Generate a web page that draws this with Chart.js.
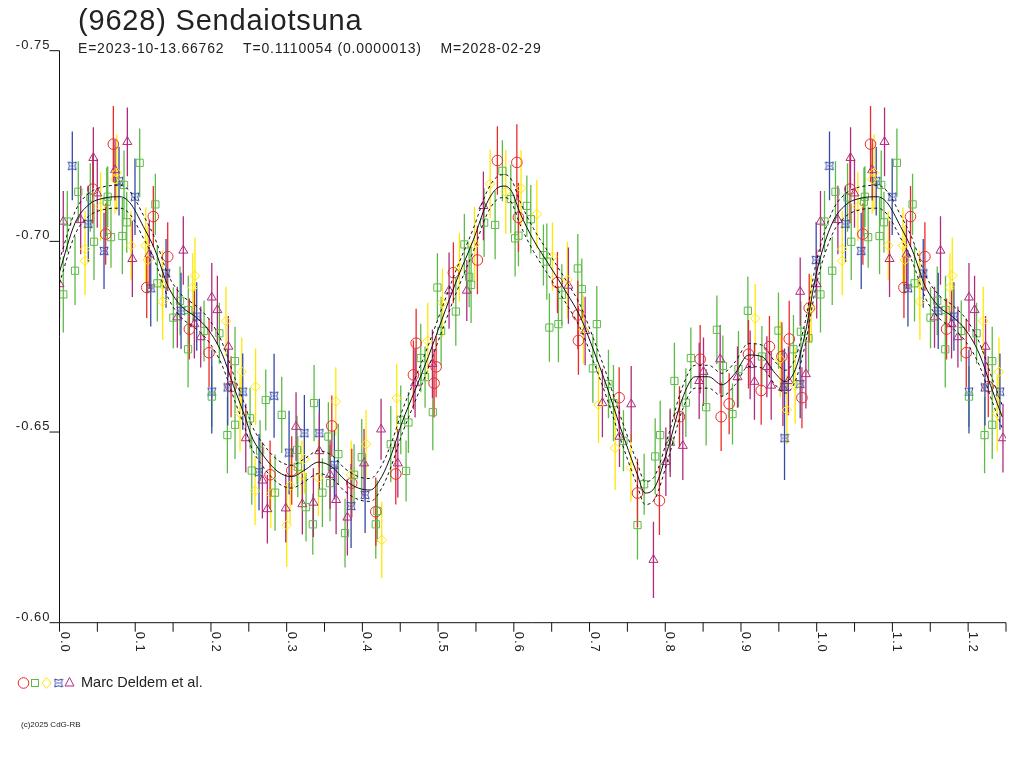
<!DOCTYPE html>
<html>
<head>
<meta charset="utf-8">
<title>(9628) Sendaiotsuna</title>
<script src="https://cdn.jsdelivr.net/npm/chart.js@4.4.1/dist/chart.umd.min.js"></script>
<style>
html, body { margin: 0; padding: 0; background: #fff; }
#wrap { position: relative; width: 1024px; height: 768px; font-family: "Liberation Sans", Arial, sans-serif; color: #222; overflow: hidden; }
#wrap canvas { position: absolute; left: 0; top: 0; }
.txt { position: absolute; white-space: nowrap; line-height: 1; }
#title { left: 78px; top: 6px; font-size: 29px; letter-spacing: 0.8px; }
#sub { left: 78px; top: 41px; font-size: 14px; letter-spacing: 0.8px; }
#leg { left: 81px; top: 675px; font-size: 14.5px; }
#copy { left: 21px; top: 721px; font-size: 8px; }
</style>
</head>
<body>
<div id="wrap">
  <canvas id="lc" width="1024" height="768"></canvas>
  <div class="txt" id="title">(9628) Sendaiotsuna</div>
  <div class="txt" id="sub">E=2023-10-13.66762&nbsp;&nbsp;&nbsp;&nbsp;T=0.1110054 (0.0000013)&nbsp;&nbsp;&nbsp;&nbsp;M=2028-02-29</div>
  <div class="txt" id="leg">Marc Deldem et al.</div>
  <div class="txt" id="copy">(c)2025 CdG-RB</div>
</div>
<script>
const redPhase = [0.0439,0.0711,0.0610,0.1239,0.1429,0.1152,0.1715,0.1975,0.2266,0.2781,
  0.3067,0.3596,0.3860,0.4177,0.4441,0.4710,0.4674,0.4974,0.4947,0.5202,
  0.5519,0.5783,0.6040,0.6061,0.6576,0.6845,0.6853,0.7391,0.7633,0.7923,
  0.8188,0.8461,0.8738,0.8844,0.9099,0.9267,0.9376,0.9540,0.9637,0.9805,0.9901];
const redMag = [-0.7137,-0.7255,-0.7019,-0.7065,-0.6960,-0.6879,-0.6770,-0.6708,-0.6619,-0.6388,
  -0.6399,-0.6516,-0.6366,-0.6291,-0.6390,-0.6733,-0.6650,-0.6671,-0.6628,-0.6918,
  -0.6951,-0.7212,-0.7207,-0.7063,-0.6892,-0.6807,-0.6740,-0.6590,-0.6340,-0.6320,
  -0.6540,-0.6691,-0.6540,-0.6574,-0.6704,-0.6609,-0.6724,-0.6698,-0.6744,-0.6590,-0.6825];
const redErr = [0.009,0.010,0.008,0.008,0.009,0.008,0.008,0.009,0.008,0.009,
  0.009,0.008,0.009,0.009,0.008,0.009,0.009,0.008,0.009,0.008,
  0.009,0.009,0.010,0.009,0.008,0.009,0.009,0.008,0.009,0.009,
  0.008,0.009,0.009,0.008,0.009,0.009,0.008,0.009,0.010,0.008,0.009];

const greenPhase = [0.0050,0.0103,0.0205,0.0248,0.0407,0.0456,0.0637,0.0624,0.0680,0.0830,
  0.0852,0.0888,0.1059,0.1266,0.1292,0.1503,0.1592,0.1701,0.1698,0.1909,
  0.2111,0.2318,0.2011,0.2217,0.2318,0.2517,0.2539,0.2649,0.2724,0.2847,
  0.2935,0.3137,0.3147,0.3256,0.3345,0.3362,0.3472,0.3551,0.3573,0.3683,
  0.3771,0.3890,0.3992,0.4177,0.4198,0.4375,0.4507,0.4577,0.4608,0.4771,
  0.4828,0.4930,0.4991,0.5040,0.5234,0.5347,0.5410,0.5436,0.5608,0.5753,
  0.5849,0.5960,0.6017,0.6061,0.6172,0.6224,0.6391,0.6436,0.6470,0.6589,
  0.6634,0.6845,0.6898,0.7096,0.7044,0.7250,0.7316,0.7448,0.7633,0.7721,
  0.7867,0.7933,0.8065,0.8121,0.8272,0.8338,0.8540,0.8682,0.8761,0.8888,
  0.8967,0.9091,0.9276,0.9495,0.9693,0.9791,0.9892];
const greenMag = [-0.6861,-0.7052,-0.6923,-0.7130,-0.7115,-0.6999,-0.7117,-0.7104,-0.7011,-0.7014,
  -0.7148,-0.7050,-0.7206,-0.7097,-0.6890,-0.6800,-0.6844,-0.6820,-0.6717,-0.6765,
  -0.6759,-0.6686,-0.6593,-0.6492,-0.6519,-0.6536,-0.6399,-0.6451,-0.6584,-0.6341,
  -0.6545,-0.6453,-0.6409,-0.6303,-0.6258,-0.6576,-0.6341,-0.6488,-0.6366,-0.6442,
  -0.6235,-0.6388,-0.6434,-0.6258,-0.6293,-0.6468,-0.6532,-0.6398,-0.6525,-0.6694,
  -0.6644,-0.6552,-0.6879,-0.6765,-0.6816,-0.6992,-0.6907,-0.6886,-0.7049,-0.7043,
  -0.7185,-0.7111,-0.7008,-0.7015,-0.7093,-0.7058,-0.6964,-0.6947,-0.6774,-0.6783,
  -0.6860,-0.6929,-0.6875,-0.6783,-0.6667,-0.6626,-0.6576,-0.6477,-0.6256,-0.6363,
  -0.6436,-0.6492,-0.6475,-0.6634,-0.6577,-0.6694,-0.6565,-0.6768,-0.6673,-0.6547,
  -0.6665,-0.6818,-0.6698,-0.6766,-0.6717,-0.6763,-0.6746];
const greenErr = [0.010,0.008,0.009,0.008,0.009,0.010,0.008,0.009,0.008,0.010,
  0.009,0.008,0.009,0.008,0.010,0.008,0.009,0.009,0.010,0.008,
  0.008,0.009,0.008,0.010,0.009,0.008,0.009,0.008,0.008,0.010,
  0.010,0.009,0.008,0.009,0.008,0.010,0.009,0.009,0.010,0.008,
  0.009,0.008,0.010,0.009,0.008,0.010,0.009,0.008,0.008,0.009,
  0.008,0.010,0.009,0.009,0.009,0.008,0.008,0.010,0.009,0.009,
  0.008,0.009,0.010,0.008,0.008,0.009,0.008,0.010,0.009,0.010,
  0.008,0.009,0.008,0.010,0.009,0.009,0.010,0.008,0.009,0.008,
  0.010,0.009,0.008,0.010,0.009,0.008,0.010,0.009,0.008,0.008,
  0.010,0.009,0.008,0.010,0.009,0.008,0.009];

const yellowPhase = [0.0337,0.0337,0.0544,0.0756,0.0733,0.0945,0.1139,0.1165,0.1358,0.1363,
  0.1760,0.1790,0.2199,0.2407,0.2590,0.2583,0.2384,0.2790,0.3001,0.3045,
  0.3234,0.3200,0.3419,0.3649,0.3851,0.4049,0.4256,0.4454,0.4864,0.5057,
  0.5281,0.5480,0.5687,0.5894,0.6096,0.6304,0.6510,0.6708,0.6919,0.7118,
  0.7338,0.7546,0.9188,0.9518,0.9606,0.9716,0.9927];
const yellowMag = [-0.6980,-0.6949,-0.7091,-0.7180,-0.7163,-0.6989,-0.6989,-0.6951,-0.6886,-0.6842,
  -0.6879,-0.6910,-0.6791,-0.6658,-0.6619,-0.6346,-0.6549,-0.6338,-0.6256,-0.6359,
  -0.6429,-0.6388,-0.6380,-0.6580,-0.6388,-0.6468,-0.6217,-0.6589,-0.6739,-0.6839,
  -0.6931,-0.6991,-0.7151,-0.7130,-0.7139,-0.7071,-0.6960,-0.6899,-0.6768,-0.6571,
  -0.6458,-0.6407,-0.6798,-0.6691,-0.6558,-0.6622,-0.6822];
const yellowErr = [0.010,0.009,0.009,0.010,0.009,0.009,0.010,0.009,0.009,0.010,
  0.009,0.010,0.009,0.009,0.010,0.009,0.010,0.009,0.011,0.010,
  0.009,0.009,0.010,0.009,0.009,0.009,0.010,0.009,0.010,0.009,
  0.009,0.010,0.009,0.011,0.010,0.009,0.009,0.010,0.009,0.010,
  0.011,0.009,0.009,0.010,0.009,0.010,0.009];

const bluePhase = [0.0169,0.0380,0.0588,0.0786,0.0997,0.1205,0.1407,0.1605,0.1812,0.2011,
  0.2222,0.2420,0.2834,0.3234,0.3432,0.3032,0.2635,0.3630,0.3851,0.4036,
  0.9575,0.9782,0.9993,0.9575];
const blueMag = [-0.7198,-0.7046,-0.6975,-0.7158,-0.7117,-0.6877,-0.6916,-0.6818,-0.6803,-0.6606,
  -0.6617,-0.6606,-0.6595,-0.6497,-0.6497,-0.6446,-0.6395,-0.6414,-0.6306,-0.6335,
  -0.6484,-0.6626,-0.6951,-0.6619];
const blueErr = [0.009,0.010,0.010,0.009,0.010,0.010,0.009,0.010,0.009,0.011,
  0.010,0.010,0.011,0.010,0.009,0.011,0.010,0.009,0.011,0.010,
  0.011,0.009,0.010,0.010];

const purplePhase = [0.0000,0.0050,0.0280,0.0447,0.0499,0.0733,0.0896,0.0962,0.1186,0.1635,
  0.1556,0.1781,0.1865,0.2011,0.2085,0.2230,0.2460,0.2679,0.2745,0.2988,
  0.3124,0.3207,0.3353,0.3432,0.3573,0.3653,0.3802,0.4022,0.4247,0.4468,
  0.4696,0.4925,0.5145,0.5379,0.5598,0.6721,0.6942,0.7170,0.7395,0.7550,
  0.7844,0.8008,0.8065,0.8232,0.8448,0.8505,0.8725,0.8954,0.9121,0.9178,
  0.9342,0.9399,0.9554,0.9627,0.9857,0.9782];
const purpleMag = [-0.6888,-0.7052,-0.7056,-0.7219,-0.7126,-0.7187,-0.7261,-0.6954,-0.6966,-0.6976,
  -0.6801,-0.6783,-0.6749,-0.6853,-0.6820,-0.6724,-0.6484,-0.6373,-0.6298,-0.6300,
  -0.6514,-0.6311,-0.6315,-0.6450,-0.6388,-0.6322,-0.6276,-0.6418,-0.6507,-0.6418,
  -0.6628,-0.6679,-0.6871,-0.6871,-0.7093,-0.6884,-0.6765,-0.6576,-0.6488,-0.6573,
  -0.6165,-0.6422,-0.6472,-0.6464,-0.6634,-0.6658,-0.6691,-0.6644,-0.6676,-0.6632,
  -0.6671,-0.6622,-0.6616,-0.6634,-0.6652,-0.6868];
const purpleErr = [0.009,0.008,0.009,0.008,0.009,0.008,0.009,0.010,0.009,0.009,
  0.008,0.009,0.008,0.009,0.009,0.008,0.009,0.010,0.009,0.009,
  0.009,0.008,0.009,0.010,0.009,0.009,0.010,0.009,0.008,0.009,
  0.009,0.009,0.010,0.008,0.009,0.010,0.009,0.009,0.008,0.010,
  0.010,0.009,0.009,0.009,0.010,0.009,0.009,0.008,0.009,0.010,
  0.008,0.009,0.010,0.009,0.009,0.009];

// courbe ajustée (Fourier) et demi-largeur de l'enveloppe pointillée
const fitPhase = [0.0000,0.0205,0.0380,0.0601,0.0799,0.0931,0.1107,0.1262,0.1437,0.1614,
  0.1790,0.1966,0.2143,0.2318,0.2450,0.2539,0.2671,0.2886,0.3067,0.3243,
  0.3419,0.3596,0.3771,0.3947,0.4102,0.4256,0.4388,0.4520,0.4696,0.4872,
  0.5049,0.5247,0.5466,0.5643,0.5775,0.5885,0.5974,0.6083,0.6259,0.6480,
  0.6700,0.6876,0.7052,0.7229,0.7404,0.7625,0.7734,0.7867,0.8042,0.8219,
  0.8395,0.8571,0.8748,0.8923,0.9099,0.9276,0.9452,0.9584,0.9716,0.9848];
const fitMag = [-0.6920,-0.7048,-0.7095,-0.7114,-0.7117,-0.7101,-0.7039,-0.6977,-0.6881,-0.6829,
  -0.6803,-0.6768,-0.6707,-0.6610,-0.6540,-0.6488,-0.6444,-0.6396,-0.6383,-0.6401,
  -0.6421,-0.6409,-0.6374,-0.6353,-0.6348,-0.6383,-0.6444,-0.6523,-0.6610,-0.6698,
  -0.6794,-0.6899,-0.7004,-0.7100,-0.7139,-0.7145,-0.7130,-0.7074,-0.7004,-0.6934,
  -0.6864,-0.6803,-0.6715,-0.6619,-0.6514,-0.6392,-0.6340,-0.6357,-0.6462,-0.6584,
  -0.6645,-0.6645,-0.6624,-0.6654,-0.6702,-0.6698,-0.6654,-0.6632,-0.6663,-0.6759];
const fitBand = 0.0030;

const xMax = 1.25;
const yTickValues = [-0.75, -0.70, -0.65, -0.60];
const yTickLabels = ['-0.75', '-0.70', '-0.65', '-0.60'];
const xTickValues = [0,0.05,0.1,0.15,0.2,0.25,0.3,0.35,0.4,0.45,0.5,0.55,0.6,0.65,0.7,0.75,0.8,0.85,0.9,0.95,1.0,1.05,1.1,1.15,1.2,1.25];
const xLabelValues = [0,0.1,0.2,0.3,0.4,0.5,0.6,0.7,0.8,0.9,1.0,1.1,1.2];
const xTickLabels = ['0.0','0.1','0.2','0.3','0.4','0.5','0.6','0.7','0.8','0.9','1.0','1.1','1.2'];

const colors = { red: '#ec2a2a', green: '#5cbb45', yellow: '#ffe800', blue: '#3549a8', purple: '#b02a7e' };

// les points de phase < 0.25 sont répétés après 1.0
function wrapped(phase, mag, err) {
  const out = [];
  phase.forEach((p, i) => {
    out.push({ x: p, y: mag[i], e: err ? err[i] : 0 });
    if (p + 1 <= xMax) out.push({ x: p + 1, y: mag[i], e: err ? err[i] : 0 });
  });
  return out.sort((a, b) => a.x - b.x);
}

function starMarker(color) {
  const c = document.createElement('canvas');
  c.width = 10; c.height = 10;
  const g = c.getContext('2d');
  g.strokeStyle = color;
  g.lineWidth = 1;
  g.beginPath();
  g.moveTo(1, 1);
  g.quadraticCurveTo(5, 3.5, 9, 1);
  g.quadraticCurveTo(6.5, 5, 9, 9);
  g.quadraticCurveTo(5, 6.5, 1, 9);
  g.quadraticCurveTo(3.5, 5, 1, 1);
  g.moveTo(3.5, 5); g.lineTo(6.5, 5);
  g.stroke();
  return c;
}
const blueStar = starMarker(colors.blue);

function pointSet(phase, mag, err, color, style, radius) {
  return {
    type: 'scatter',
    data: wrapped(phase, mag, err),
    errorBars: true,
    borderColor: color,
    backgroundColor: 'rgba(0,0,0,0)',
    pointStyle: style,
    pointRadius: radius,
    pointBorderWidth: 1,
    pointBorderColor: color,
    pointBackgroundColor: 'rgba(0,0,0,0)',
    order: 5
  };
}

function fitSet(offset, dash) {
  const mag = fitMag.map(m => m + offset);
  return {
    type: 'line',
    data: wrapped(fitPhase, mag, null),
    borderColor: '#111',
    borderWidth: 1,
    borderDash: dash,
    pointRadius: 0,
    fill: false,
    cubicInterpolationMode: 'monotone',
    order: 1
  };
}

// barres d'erreur, axes et légende des symboles
const lcPlugin = {
  id: 'lcPlugin',
  beforeDatasetsDraw(chart) {
    const { ctx, chartArea: a, scales: { x, y } } = chart;
    ctx.save();
    ctx.beginPath();
    ctx.rect(a.left, a.top, a.right - a.left, a.bottom - a.top);
    ctx.clip();
    ctx.lineWidth = 1.3;
    chart.data.datasets.forEach(ds => {
      if (!ds.errorBars) return;
      ctx.strokeStyle = ds.borderColor;
      ctx.beginPath();
      ds.data.forEach(pt => {
        const px = x.getPixelForValue(pt.x);
        ctx.moveTo(px, y.getPixelForValue(pt.y - pt.e));
        ctx.lineTo(px, y.getPixelForValue(pt.y + pt.e));
      });
      ctx.stroke();
    });
    ctx.restore();
  },
  afterDraw(chart) {
    const { ctx, chartArea: a, scales: { x, y } } = chart;
    ctx.save();
    ctx.strokeStyle = '#111';
    ctx.fillStyle = '#222';
    ctx.lineWidth = 1;
    ctx.beginPath();
    ctx.moveTo(a.left, a.top);
    ctx.lineTo(a.left, a.bottom);
    ctx.lineTo(a.right, a.bottom);
    yTickValues.forEach(v => {
      const py = y.getPixelForValue(v);
      ctx.moveTo(a.left - 10, py);
      ctx.lineTo(a.left, py);
    });
    xTickValues.forEach(v => {
      const px = x.getPixelForValue(v);
      ctx.moveTo(px, a.bottom);
      ctx.lineTo(px, a.bottom + 9);
    });
    ctx.stroke();

    ctx.font = '13px "Liberation Sans", Arial, sans-serif';
    ctx.letterSpacing = '1px';
    ctx.textAlign = 'right';
    ctx.textBaseline = 'alphabetic';
    yTickValues.forEach((v, i) => {
      ctx.fillText(yTickLabels[i], a.left - 9, y.getPixelForValue(v) - 2);
    });
    ctx.textAlign = 'left';
    xLabelValues.forEach((v, i) => {
      const px = x.getPixelForValue(v);
      ctx.save();
      ctx.translate(px + 1, a.bottom + 9);
      ctx.rotate(Math.PI / 2);
      ctx.fillText(xTickLabels[i], 0, 0);
      ctx.restore();
    });
    ctx.letterSpacing = '0px';

    // symboles de la légende
    const ly = 683;
    ctx.lineWidth = 1;
    ctx.strokeStyle = colors.red;
    ctx.beginPath(); ctx.arc(23.5, ly, 5.3, 0, Math.PI * 2); ctx.stroke();
    ctx.strokeStyle = colors.green;
    ctx.strokeRect(31.5, ly - 3.5, 7, 7);
    ctx.strokeStyle = colors.yellow;
    ctx.beginPath();
    ctx.moveTo(46.5, ly - 5.5); ctx.lineTo(51, ly); ctx.lineTo(46.5, ly + 5.5); ctx.lineTo(42, ly); ctx.closePath();
    ctx.stroke();
    ctx.drawImage(blueStar, 53.5, ly - 5);
    ctx.strokeStyle = colors.purple;
    ctx.beginPath();
    ctx.moveTo(69.5, ly - 5.5); ctx.lineTo(74, ly + 3); ctx.lineTo(65, ly + 3); ctx.closePath();
    ctx.stroke();
    ctx.restore();
  }
};

const chart = new Chart(document.getElementById('lc'), {
  type: 'scatter',
  data: {
    datasets: [
      fitSet(0, []),
      fitSet(-fitBand, [3, 3]),
      fitSet(fitBand, [3, 3]),
      pointSet(greenPhase, greenMag, greenErr, colors.green, 'rect', 5.1),
      pointSet(yellowPhase, yellowMag, yellowErr, colors.yellow, 'rectRot', 4.8),
      pointSet(bluePhase, blueMag, blueErr, colors.blue, blueStar, 5),
      pointSet(redPhase, redMag, redErr, colors.red, 'circle', 5.3),
      pointSet(purplePhase, purpleMag, purpleErr, colors.purple, 'triangle', 5.2)
    ]
  },
  options: {
    responsive: false,
    animation: false,
    devicePixelRatio: 1,
    layout: { padding: { left: 59.5, right: 18, top: 50.7, bottom: 145.3 } },
    scales: {
      x: { type: 'linear', min: 0, max: xMax, display: false },
      y: { type: 'linear', min: -0.75, max: -0.60, reverse: true, display: false }
    },
    plugins: {
      legend: { display: false },
      tooltip: { enabled: false },
      title: { display: false }
    }
  },
  plugins: [lcPlugin]
});
</script>
</body>
</html>
